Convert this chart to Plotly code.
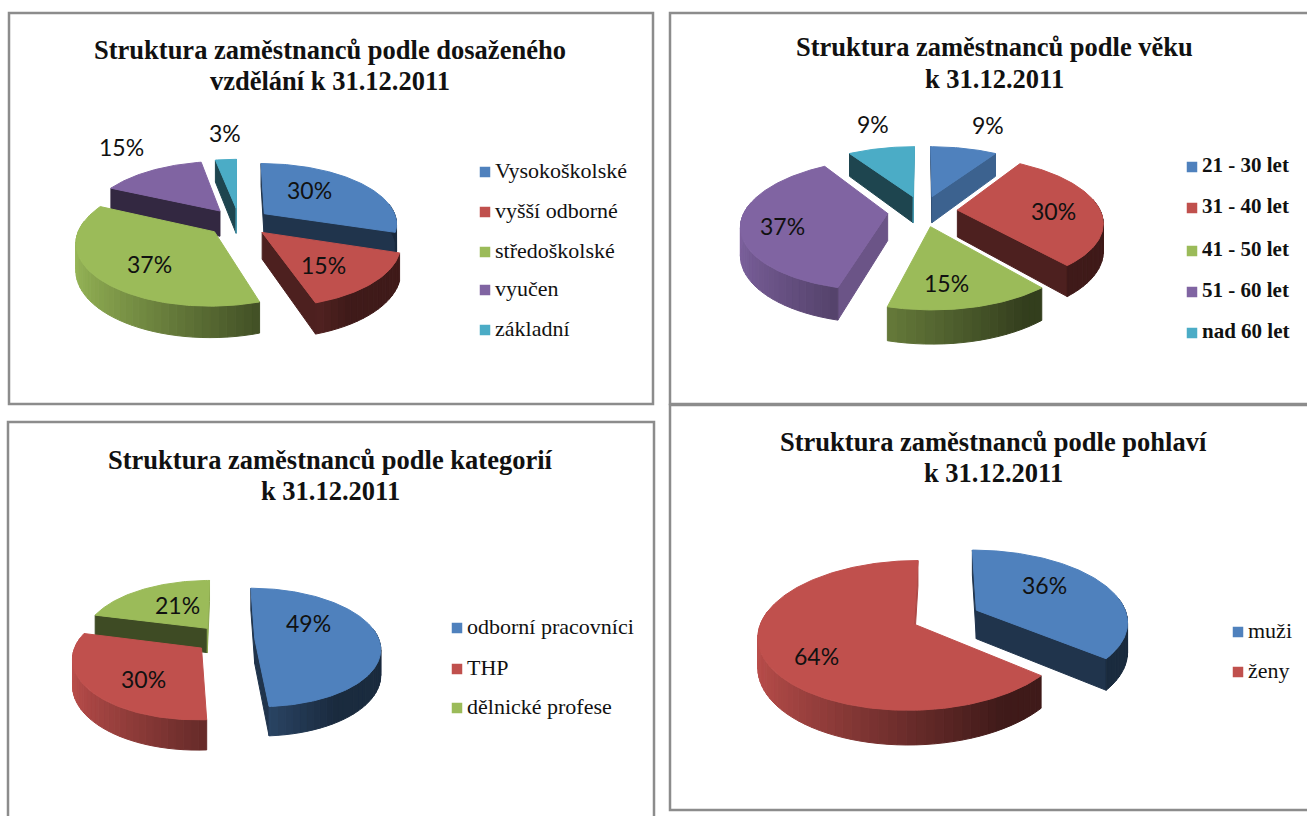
import math
import plotly.graph_objects as go

# ---------- data ----------
titles_a = ["Struktura zaměstnanců podle dosaženého", "vzdělání k 31.12.2011"]
cats_a = ["Vysokoškolské", "vyšší odborné", "středoškolské", "vyučen", "základní"]
vals_a = [30, 15, 37, 15, 3]

titles_b = ["Struktura zaměstnanců podle věku", "k 31.12.2011"]
cats_b = ["21 - 30 let", "31 - 40 let", "41 - 50 let", "51 - 60 let", "nad 60 let"]
vals_b = [9, 30, 15, 37, 9]

titles_c = ["Struktura zaměstnanců podle kategorií", "k 31.12.2011"]
cats_c = ["odborní pracovníci", "THP", "dělnické profese"]
vals_c = [49, 30, 21]

titles_d = ["Struktura zaměstnanců podle pohlaví", "k 31.12.2011"]
cats_d = ["muži", "ženy"]
vals_d = [36, 64]

# ---------- style / layout ----------
COLORS = ["#4F81BD", "#C0504D", "#9BBB59", "#8064A2", "#4BACC6"]
FRAME = "#8c8c8c"

panels = [
    dict(titles=titles_a, cats=cats_a, vals=vals_a, tx=330, ty=[50, 81],
         cx=239, cy=222, rx=133, ry=60, d=26, e=0.24, k=0.15,
         lab=[(309, 190), (323, 265), (149, 264), (121, 147), (225, 133)],
         lx=485, ly=[172, 212, 252, 290, 330], fs=22, bold=False),
    dict(titles=titles_b, cats=cats_b, vals=vals_b, tx=994, ty=[47, 79],
         cx=922.5, cy=211, rx=143, ry=63, d=27, e=0.245, k=0.17,
         lab=[(988, 125), (1053, 211), (946, 283), (782, 226), (873, 124)],
         lx=1192, ly=[167, 208, 251, 292, 333], fs=21, bold=True),
    dict(titles=titles_c, cats=cats_c, vals=vals_c, tx=330, ty=[460, 491],
         cx=225, cy=639, rx=124, ry=58, d=25, e=0.24, k=0.15,
         lab=[(308, 623), (143, 679), (177, 605)],
         lx=457, ly=[628, 669, 708], fs=22, bold=False),
    dict(titles=titles_d, cats=cats_d, vals=vals_d, tx=993, ty=[442, 473],
         cx=945.5, cy=617, rx=151, ry=71, d=29, e=0.229, k=0.15,
         lab=[(1044, 585), (816, 656)],
         lx=1238, ly=[632, 672], fs=22, bold=False),
]

frames = [(9, 13, 653, 404), (670, 13, 1320, 404), (8, 422, 654, 830), (670, 405, 1320, 810)]


def shade(hex_color, f):
    r, g, b = (int(hex_color[i:i + 2], 16) for i in (1, 3, 5))
    return f"rgb({round(r * f)},{round(g * f)},{round(b * f)})"


def wall_factor(t):
    return max(0.33, 0.55 - 0.42 * math.sin(math.radians(t)))


def face_factor(n):
    n = n % 360
    if 90 <= n < 180:
        return 0.9 - (n - 90) / 90 * 0.4
    return 0.4


fig = go.Figure()


def poly(xs, ys, color):
    fig.add_trace(go.Scatter(x=xs, y=ys, mode="lines", fill="toself", fillcolor=color,
                             line=dict(color=color, width=1), hoverinfo="skip",
                             showlegend=False))


def draw_pie(p):
    total = sum(p["vals"])
    angle = 0.0
    slices = []
    for i, v in enumerate(p["vals"]):
        span = v / total * 360
        slices.append((i, angle, angle + span))
        angle += span

    def pt(mid, t, r, z):
        m, a = math.radians(mid), math.radians(t)
        X = p["e"] * math.sin(m) + r * math.sin(a)
        Y = p["e"] * math.cos(m) + r * math.cos(a)
        s = 1 / (1 + p["k"] * Y)
        return p["cx"] + p["rx"] * X * s, p["cy"] - p["ry"] * Y * s + p["d"] * z * s

    order = sorted(slices, key=lambda q: -math.cos(math.radians((q[1] + q[2]) / 2)))
    for i, a, b in order:
        base = COLORS[i]
        mid = (a + b) / 2
        # radial cut faces
        for edge, normal in ((a, a - 90), (b, b + 90)):
            if math.cos(math.radians(normal)) < 0.03:
                pts = [pt(mid, 0, 0, 0), pt(mid, edge, 1, 0), pt(mid, edge, 1, 1), pt(mid, 0, 0, 1)]
                poly([q[0] for q in pts] + [pts[0][0]], [q[1] for q in pts] + [pts[0][1]],
                     shade(base, face_factor(normal)))
        # outer wall, strip by strip so that it darkens towards the right
        lo, hi = max(a, 80), min(b, 280)
        t = lo
        while t < hi:
            t2 = min(t + 3, hi)
            pts = [pt(mid, t, 1, 0), pt(mid, t2, 1, 0), pt(mid, t2, 1, 1), pt(mid, t, 1, 1)]
            poly([q[0] for q in pts] + [pts[0][0]], [q[1] for q in pts] + [pts[0][1]],
                 shade(base, wall_factor((t + t2) / 2)))
            t = t2
        # top surface
        n = max(2, int(b - a))
        pts = [pt(mid, 0, 0, 0)] + [pt(mid, a + (b - a) * k / n, 1, 0) for k in range(n + 1)]
        poly([q[0] for q in pts] + [pts[0][0]], [q[1] for q in pts] + [pts[0][1]], base)


for p in panels:
    draw_pie(p)

annotations = []
for p in panels:
    for line, y in zip(p["titles"], p["ty"]):
        annotations.append(dict(x=p["tx"], y=y, text=f"<b>{line}</b>", showarrow=False,
                                font=dict(family="Liberation Serif", size=26.5, color="#111")))
    for v, (x, y) in zip(p["vals"], p["lab"]):
        annotations.append(dict(x=x, y=y, text=f"{v}%", showarrow=False,
                                font=dict(family="Lato", size=23, color="#111")))
    fig.add_trace(go.Scatter(
        x=[p["lx"]] * len(p["cats"]), y=p["ly"], mode="markers",
        marker=dict(symbol="square", size=10.5, color=COLORS[:len(p["cats"])]),
        hoverinfo="skip", showlegend=False))
    fig.add_trace(go.Scatter(
        x=[p["lx"] + 10] * len(p["cats"]), y=p["ly"], mode="text",
        text=[f"<b>{c}</b>" if p["bold"] else c for c in p["cats"]],
        textposition="middle right",
        textfont=dict(family="Liberation Serif", size=p["fs"], color="#111"),
        hoverinfo="skip", showlegend=False))

shapes = [dict(type="rect", xref="x", yref="y", x0=x0, y0=y0, x1=x1, y1=y1,
               line=dict(color=FRAME, width=2.5), layer="below")
          for x0, y0, x1, y1 in frames]

fig.update_layout(
    width=1307, height=816, margin=dict(l=0, r=0, t=0, b=0),
    paper_bgcolor="white", plot_bgcolor="white",
    xaxis=dict(range=[0, 1307], visible=False, fixedrange=True),
    yaxis=dict(range=[816, 0], visible=False, fixedrange=True),
    shapes=shapes, annotations=annotations, showlegend=False,
)
fig.write_html("out.html", config=dict(displayModeBar=False),
               post_script="document.body.style.margin='0';")
